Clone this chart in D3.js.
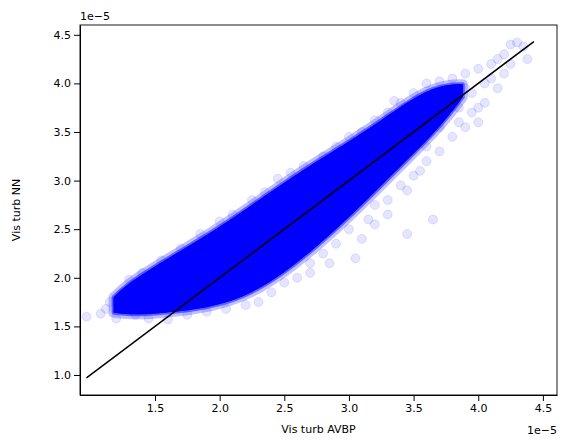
<!DOCTYPE html><html><head><script src="https://d3js.org/d3.v7.min.js"></script>
<style>body{margin:0;background:#fff}text{font-family:"DejaVu Sans",sans-serif}</style></head><body>
<svg id="c" width="567" height="448"></svg>
<script>
// values in units of 1e-5
const coreX    = [1.18,1.3,1.5,1.75,2.0,2.25,2.5,2.75,3.0,3.25,3.5,3.65,3.78,3.88];
const coreLow  = [1.64,1.62,1.63,1.66,1.72,1.84,2.05,2.32,2.62,2.95,3.28,3.48,3.68,3.86];
const coreHigh = [1.8,1.95,2.12,2.32,2.52,2.75,2.98,3.2,3.4,3.62,3.85,3.95,3.99,3.99];
const haloPts = [[0.97,1.6],[1.08,1.63],[1.12,1.68],[1.2,1.58],[1.25,1.85],[1.3,1.98],[1.4,2.05],[1.45,1.58],[1.55,2.18],[1.6,1.57],
[1.7,2.3],[1.75,1.62],[1.85,2.45],[1.9,1.65],[2.0,2.58],[2.05,1.68],[2.1,2.65],[2.2,1.72],[2.25,2.8],[2.3,1.75],
[2.35,2.88],[2.4,1.85],[2.45,3.02],[2.5,1.95],[2.55,3.08],[2.6,2.0],[2.65,3.15],[2.7,2.15],[2.8,3.25],[2.8,2.25],
[2.9,3.35],[2.9,2.35],[3.0,3.45],[3.0,2.5],[3.05,2.2],[3.1,3.5],[3.15,2.6],[3.2,3.62],[3.2,2.75],[3.3,3.7],
[3.3,2.8],[3.35,3.82],[3.4,3.8],[3.45,2.9],[3.45,2.45],[3.5,3.9],[3.55,3.1],[3.6,4.0],[3.6,3.2],[3.65,2.6],
[3.7,4.02],[3.7,3.3],[3.8,4.05],[3.8,3.45],[3.85,3.6],[3.9,4.1],[3.9,3.55],[4.0,4.15],[4.0,3.6],[4.05,3.8],
[4.1,4.2],[4.15,3.95],[4.2,4.3],[4.25,4.4],[4.3,4.42],[4.35,4.38],[4.38,4.25],[2.7,2.05],[2.85,2.15],[3.1,2.4],
[3.8,3.9],[3.85,3.75],[3.95,3.9],[3.75,3.7],[3.9,3.95],[4.05,4.0],[4.1,4.05],[4.0,3.75],[3.7,3.55],[1.35,1.62],
[3.2,2.55],[3.3,2.65],[3.4,2.95],[3.5,3.05],[3.6,3.35],[4.2,4.1],[4.25,4.2],[4.15,4.25],[3.95,3.7],[1.15,1.75]];
const lineX = [0.97,4.43];
const xTicks = [1.5,2.0,2.5,3.0,3.5,4.0,4.5];
const yTicks = [1.0,1.5,2.0,2.5,3.0,3.5,4.0,4.5];

const svg=d3.select("#c");
const L=80,R=557,T=25,B=395;
const x=d3.scaleLinear().domain([1.5-(155-L)/129.3,1.5+(R-155)/129.3]).range([L,R]);
const y=d3.scaleLinear().domain([1.0-(B-375)/97.2,1.0+(375-T)/97.2]).range([B,T]);
const g=svg.append("g");
g.selectAll("circle").data(haloPts).join("circle").attr("cx",d=>x(d[0])).attr("cy",d=>y(d[1]))
 .attr("r",4.5).attr("fill","blue").attr("fill-opacity",0.1).attr("stroke","blue").attr("stroke-opacity",0.1);
const area=d3.area().x((d,i)=>x(coreX[i])).y0((d,i)=>y(coreLow[i])).y1((d,i)=>y(coreHigh[i])).curve(d3.curveBasis);
g.append("path").datum(coreX).attr("d",area).attr("fill","blue").attr("stroke","blue").attr("stroke-width",10).attr("stroke-linejoin","round").attr("stroke-opacity",0.25);
g.append("path").datum(coreX).attr("d",area).attr("fill","blue").attr("stroke","blue").attr("stroke-width",4).attr("stroke-linejoin","round").attr("stroke-opacity",0.5);
g.append("line").attr("x1",x(lineX[0])).attr("y1",y(lineX[0])).attr("x2",x(lineX[1])).attr("y2",y(lineX[1])).attr("stroke","black").attr("stroke-width",1.5);
svg.append("g").attr("transform",`translate(0,${B})`).call(d3.axisBottom(x).tickValues(xTicks).tickFormat(d3.format(".1f")).tickSizeOuter(0)).attr("font-size",11);
svg.append("g").attr("transform",`translate(${L},0)`).call(d3.axisLeft(y).tickValues(yTicks).tickFormat(d3.format(".1f")).tickSizeOuter(0)).attr("font-size",11);
svg.append("rect").attr("x",L).attr("y",T).attr("width",R-L).attr("height",B-T).attr("fill","none").attr("stroke","black").attr("stroke-width",0.9);
svg.selectAll(".tick text").attr("fill","black");
svg.append("text").attr("x",(L+R)/2).attr("y",433).attr("text-anchor","middle").attr("font-size",11).text("Vis turb AVBP");
svg.append("text").attr("transform",`translate(20,${(T+B)/2}) rotate(-90)`).attr("text-anchor","middle").attr("font-size",11).text("Vis turb NN");
svg.append("text").attr("x",L).attr("y",T-5).attr("font-size",11).text("1e\u22125");
svg.append("text").attr("x",R).attr("y",B+39).attr("text-anchor","end").attr("font-size",11).text("1e\u22125");
</script></body></html>
